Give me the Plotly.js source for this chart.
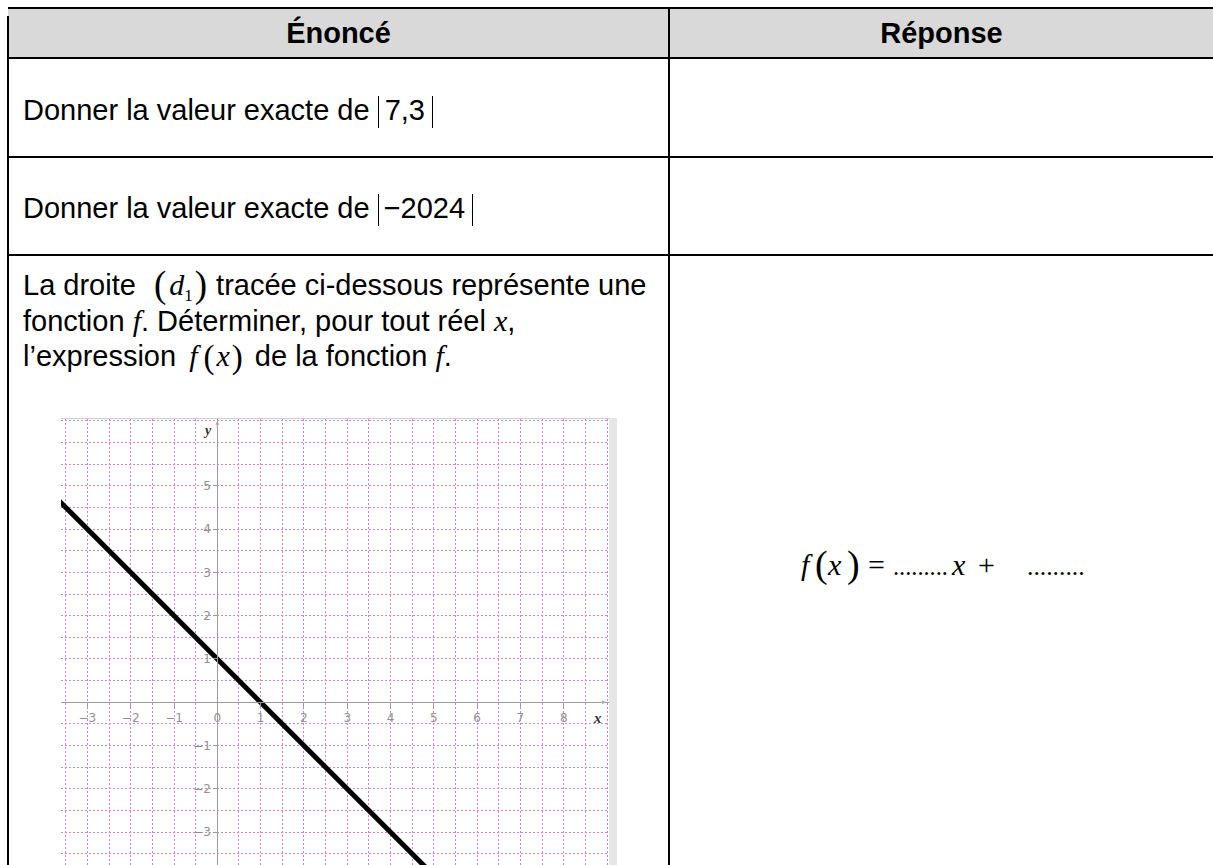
<!DOCTYPE html>
<html><head><meta charset="utf-8">
<script src="https://cdn.plot.ly/plotly-3.0.1.min.js"></script>
<style>
html,body{margin:0;padding:0;background:#fff;width:1213px;height:865px;overflow:hidden;}
.abs{position:absolute;}
.k{position:absolute;background:#000;}
.txt{position:absolute;font-family:"Liberation Sans",Arial,sans-serif;font-size:29px;color:#000;white-space:nowrap;line-height:34px;height:34px;}
.hd{position:absolute;font-family:"Liberation Sans",Arial,sans-serif;font-size:29px;font-weight:bold;color:#000;text-align:center;line-height:34px;}
.m{font-family:"Liberation Serif","Times New Roman",serif;font-style:italic;font-size:30px;}
.p{font-family:"Liberation Serif","Times New Roman",serif;font-size:37px;display:inline-block;line-height:0;position:relative;top:2px;}
.s{font-family:"Liberation Serif","Times New Roman",serif;font-size:17px;display:inline-block;line-height:0;position:relative;top:6px;}
.bar{display:inline-block;width:0;height:32px;border-left:1.5px solid #000;vertical-align:-8px;}
.r{position:absolute;font-family:"Liberation Serif","Times New Roman",serif;white-space:nowrap;color:#000;}
</style></head><body>
<!-- header background -->
<div class="abs" style="left:8px;top:8px;width:1205px;height:50px;background:#d9d9d9"></div>
<!-- borders -->
<div class="k" style="left:8px;top:7px;width:1205px;height:2px"></div>
<div class="k" style="left:7px;top:16px;width:2px;height:849px"></div>
<div class="k" style="left:8px;top:57px;width:1205px;height:2px"></div>
<div class="k" style="left:8px;top:156px;width:1205px;height:2px"></div>
<div class="k" style="left:8px;top:254px;width:1205px;height:2px"></div>
<div class="k" style="left:668px;top:8px;width:2px;height:857px"></div>

<div class="hd" style="left:9px;width:659px;top:16px">Énoncé</div>
<div class="hd" style="left:670px;width:543px;top:16px">Réponse</div>

<div class="txt" style="left:23px;top:93px">Donner la valeur exacte de <span class="bar"></span><span style="padding:0 7px 0 6px">7,3</span><span class="bar"></span></div>
<div class="txt" style="left:23px;top:191px">Donner la valeur exacte de <span class="bar"></span><span style="padding:0 7px 0 5px">−2024</span><span class="bar"></span></div>

<div class="txt" style="left:23px;top:268px">La droite <span class="p" style="margin-left:10px">(</span><span class="m" style="margin-left:3px">d</span><span class="s">1</span><span class="p" style="margin-left:2px">)</span><span style="margin-left:9px">tracée ci-dessous représente une</span></div>
<div class="txt" style="left:23px;top:304px">fonction <span class="m">f</span>. Déterminer, pour tout réel <span class="m">x</span>,</div>
<div class="txt" style="left:23px;top:339px">l’expression <span class="m" style="margin-left:5px">f</span><span class="p" style="margin-left:6px;font-size:33px">(</span><span class="m" style="margin-left:2px">x</span><span class="p" style="margin-left:2px;font-size:33px">)</span><span style="margin-left:12px">de la fonction </span><span class="m">f</span>.</div>

<!-- answer -->
<div class="r" style="left:801px;top:550px;font-size:30px;line-height:30px;font-style:italic">f</div>
<div class="r" style="left:815px;top:545px;font-size:38px;line-height:38px">(</div>
<div class="r" style="left:828px;top:550px;font-size:30px;line-height:30px;font-style:italic">x</div>
<div class="r" style="left:847px;top:545px;font-size:38px;line-height:38px">)</div>
<div class="r" style="left:868px;top:550px;font-size:30px;line-height:30px">=</div>
<div class="r" style="left:893px;top:555px;font-size:24.4px;line-height:24px">.........</div>
<div class="r" style="left:952px;top:550px;font-size:30px;line-height:30px;font-style:italic">x</div>
<div class="r" style="left:978px;top:550px;font-size:30px;line-height:30px">+</div>
<div class="r" style="left:1027px;top:555px;font-size:25.6px;line-height:24px">.........</div>

<!-- graph frame -->
<div class="abs" style="left:61px;top:418px;width:548px;height:1px;background:#cfcfcf"></div>
<div class="abs" style="left:609px;top:418px;width:8px;height:447px;background:#e6e6e6"></div>
<div id="plot" class="abs" style="left:61px;top:419px;width:548px;height:446px"></div>

<script>
// data
const lineX = [-4, 5];
const lineY = [5, -4];
const xTickVals = [-3, -2, -1, 0, 1, 2, 3, 4, 5, 6, 7, 8];
const xTickText = ['−3', '−2', '−1', '0', '1', '2', '3', '4', '5', '6', '7', '8'];
const yTickVals = [-3, -2, -1, 1, 2, 3, 4, 5];
const yTickText = ['−3', '−2', '−1', '1', '2', '3', '4', '5'];
const gridStep = 0.5;

const xRange = [-3.61, 9.046];
const yRange = [-3.758, 6.543];
const gridStyle = {gridcolor: '#cf86cf', griddash: '2px,2px', gridwidth: 1};
const tickFont = {family: 'DejaVu Sans, sans-serif', size: 12, color: '#8f8f8f'};

const traces = [
  {x: [], y: [], type: 'scatter', mode: 'lines', xaxis: 'x', yaxis: 'y', hoverinfo: 'skip'},
  {x: lineX, y: lineY, type: 'scatter', mode: 'lines', xaxis: 'x2', yaxis: 'y2',
   line: {color: '#000', width: 5}, hoverinfo: 'skip'}
];

const layout = {
  width: 548, height: 446,
  margin: {l: 0, r: 0, t: 0, b: 0},
  paper_bgcolor: '#fff', plot_bgcolor: '#fff',
  showlegend: false,
  xaxis: Object.assign({range: xRange, tick0: 0, dtick: gridStep, showgrid: true,
    showticklabels: false, ticks: '', zeroline: false, showline: false, fixedrange: true}, gridStyle),
  yaxis: Object.assign({range: yRange, tick0: 0, dtick: gridStep, showgrid: true,
    showticklabels: false, ticks: '', zeroline: false, showline: false, fixedrange: true}, gridStyle),
  xaxis2: {overlaying: 'x', range: xRange, anchor: 'free',
    position: (0 - yRange[0]) / (yRange[1] - yRange[0]),
    tickmode: 'array', tickvals: xTickVals, ticktext: xTickText,
    showgrid: false, zeroline: false, showline: true, linecolor: '#9a9a9a', linewidth: 1,
    ticks: 'outside', ticklen: 4, tickcolor: '#9a9a9a', tickfont: tickFont, fixedrange: true},
  yaxis2: {overlaying: 'y', range: yRange, anchor: 'free', side: 'left',
    position: (0 - xRange[0]) / (xRange[1] - xRange[0]),
    tickmode: 'array', tickvals: yTickVals, ticktext: yTickText,
    showgrid: false, zeroline: false, showline: true, linecolor: '#9a9a9a', linewidth: 1,
    ticks: 'outside', ticklen: 4, tickcolor: '#9a9a9a', tickfont: tickFont, fixedrange: true},
  annotations: [
    {xref: 'x2', yref: 'y2', x: 8.98, y: 0, text: '', showarrow: true, ax: -9, ay: 0,
     arrowhead: 2, arrowsize: 0.8, arrowwidth: 1, arrowcolor: '#aaaaaa'},
    {xref: 'x2', yref: 'y2', x: 0, y: 6.5, text: '', showarrow: true, ax: 0, ay: 9,
     arrowhead: 2, arrowsize: 0.8, arrowwidth: 1, arrowcolor: '#aaaaaa'},
    {xref: 'x2', yref: 'y2', x: 8.79, y: -0.36, text: '<b><i>x</i></b>', showarrow: false,
     font: {family: 'Liberation Serif, serif', size: 15, color: '#333'}},
    {xref: 'x2', yref: 'y2', x: -0.22, y: 6.27, text: '<b><i>y</i></b>', showarrow: false,
     font: {family: 'Liberation Serif, serif', size: 14, color: '#333'}}
  ]
};

Plotly.newPlot('plot', traces, layout, {staticPlot: true, displayModeBar: false});
</script>
</body></html>
